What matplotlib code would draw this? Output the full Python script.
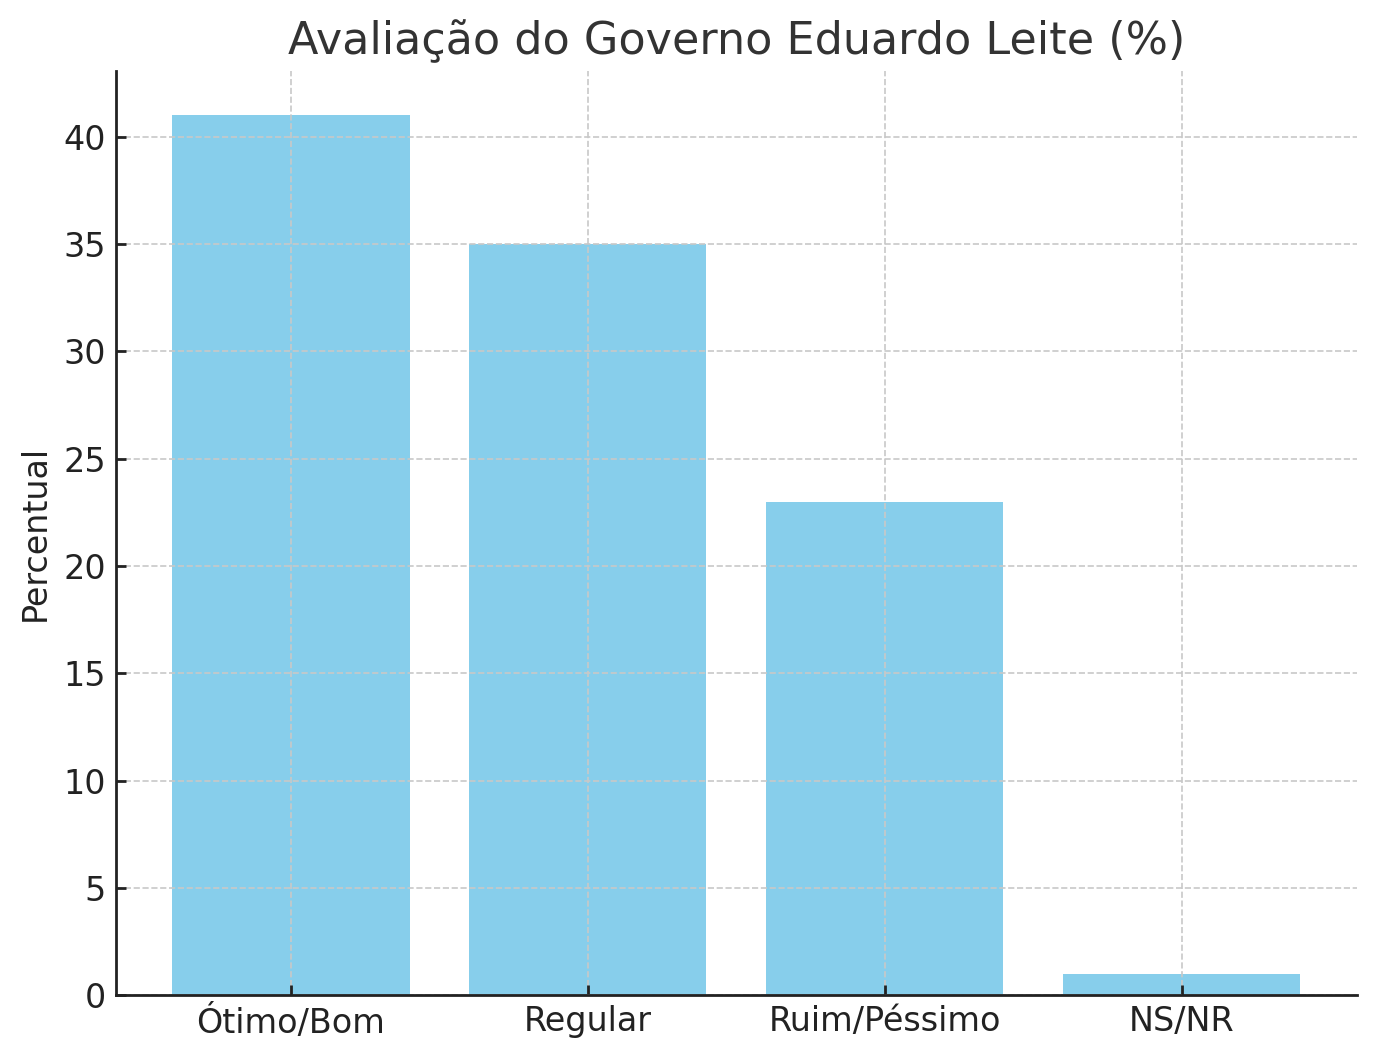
import matplotlib
matplotlib.use("Agg")
import matplotlib.pyplot as plt

categories = ["Ótimo/Bom", "Regular", "Ruim/Péssimo", "NS/NR"]
values = [41, 35, 23, 1]

fig, ax = plt.subplots(figsize=(6.88, 5.30), dpi=200)
ax.bar(categories, values, color="#87CEEB", width=0.8, zorder=1)
ax.set_title("Avaliação do Governo Eduardo Leite (%)", fontsize=16, color="#333333")
ax.set_ylabel("Percentual", fontsize=12, color="#222222")
ax.tick_params(axis="both", labelsize=12, colors="#222222", direction="in", length=3.5, width=1.0, pad=3.5)
ax.grid(True, linestyle="--", color="#c8c8c8", linewidth=0.6, zorder=2)
for s in ["top", "right"]:
    ax.spines[s].set_visible(False)
for s in ["left", "bottom"]:
    ax.spines[s].set_linewidth(1.0)
    ax.spines[s].set_color("#222222")
    ax.spines[s].set_zorder(5)
ax.set_ylim(0, 43.05)
fig.subplots_adjust(left=0.084, right=0.986, top=0.933, bottom=0.061)
fig.savefig("out.png", dpi=200)
